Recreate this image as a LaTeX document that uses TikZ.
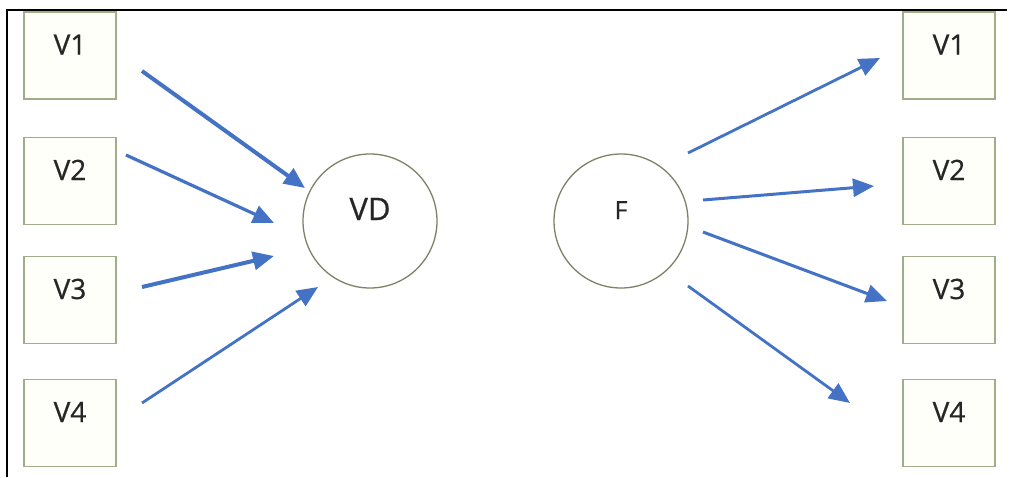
\documentclass[tikz,border=0pt]{standalone}
\usepackage{fontspec}
\setmainfont{Open Sans}
\newfontfamily\labfont{Open Sans}[FakeBold=0.6]
\usetikzlibrary{arrows.meta}
\definecolor{boxline}{HTML}{A0AC8A}
\definecolor{boxfill}{HTML}{FEFFF8}
\definecolor{circline}{HTML}{7C8264}
\definecolor{arrowblue}{HTML}{4472C4}
\definecolor{textgray}{HTML}{262626}
\tikzset{
  varbox/.style={draw=boxline, line width=1.4pt, fill=boxfill, minimum width=92pt, minimum height=87pt,
    inner sep=0pt, font=\labfont\fontsize{28}{28}\selectfont, text=textgray, text height=19pt, text depth=21pt},
  factor/.style={circle, draw=circline, line width=1.3pt, minimum size=134pt, inner sep=0pt, text=textgray,
    text depth=24pt},
  conn/.style={draw=arrowblue, line width=3.2pt, -{Triangle[length=21pt,width=18pt]}},
}
\begin{document}
\begin{tikzpicture}[x=1pt,y=-1pt]
\useasboundingbox (0,0) rectangle (1009,477);
\fill[white] (0,0) rectangle (1009,477);
\draw[line width=2.2pt, black] (7,477) -- (7,10) -- (1007,10);
% boxes
\node[varbox] (l1) at (70,55.5) {V1};
\node[varbox] (l2) at (70,181) {V2};
\node[varbox] (l3) at (70,300) {V3};
\node[varbox] (l4) at (70,423) {V4};
\node[varbox] (r1) at (949,55.5) {V1};
\node[varbox] (r2) at (949,181) {V2};
\node[varbox] (r3) at (949,300) {V3};
\node[varbox] (r4) at (949,423) {V4};
% circles
\node[factor, font=\labfont\fontsize{31}{31}\selectfont, text height=22pt] (vd) at (370,221) {VD};
\node[factor, font=\labfont\fontsize{25}{25}\selectfont, text height=18pt, text depth=22pt] (f) at (621,221) {F};
% arrow ends
\coordinate (a1s) at (142,71);  \coordinate (a1e) at (305,188);
\coordinate (a2s) at (126,155); \coordinate (a2e) at (274,223);
\coordinate (a3s) at (142,287); \coordinate (a3e) at (274,256);
\coordinate (a4s) at (142,403); \coordinate (a4e) at (318,287);
\coordinate (b1s) at (688,153); \coordinate (b1e) at (880,58);
\coordinate (b2s) at (703,200); \coordinate (b2e) at (874,186);
\coordinate (b3s) at (703,232); \coordinate (b3e) at (887,301);
\coordinate (b4s) at (688,286); \coordinate (b4e) at (850,403);
\draw[conn, line width=4pt] (a1s) -- (a1e);
\draw[conn] (a2s) -- (a2e);
\draw[conn, line width=4pt] (a3s) -- (a3e);
\draw[conn, line width=2.8pt] (a4s) -- (a4e);
\draw[conn, line width=2.8pt] (b1s) -- (b1e);
\draw[conn, line width=3pt] (b2s) -- (b2e);
\draw[conn, line width=3pt] (b3s) -- (b3e);
\draw[conn, line width=2.8pt] (b4s) -- (b4e);
\end{tikzpicture}
\end{document}
